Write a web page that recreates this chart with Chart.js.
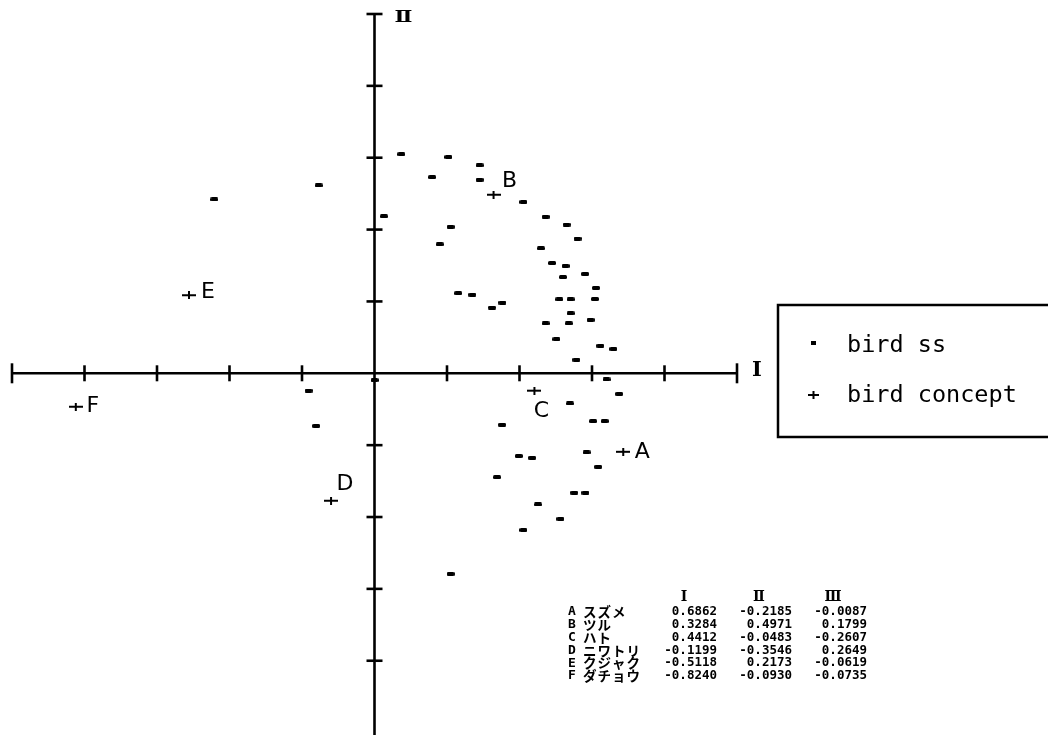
<!DOCTYPE html>
<html><head><meta charset="utf-8">
<script src="https://cdn.jsdelivr.net/npm/chart.js@4/dist/chart.umd.min.js"></script>
<style>
html,body{margin:0;padding:0;background:#fff;overflow:hidden}
#wrap{position:relative;width:1048px;height:735px}
canvas{display:block}
</style></head>
<body><div id="wrap"><canvas id="c" width="1048" height="735"></canvas></div>
<script>
// ---- data: "bird ss" points (dimension I, dimension II) ----
const ssI = [0.074,0.204,0.290,0.159,0.290,0.411,0.026,0.472,0.530,0.210,
             0.560,0.180,0.459,0.490,0.527,0.520,0.581,0.611,0.231,0.270,
             0.510,0.541,0.608,0.353,0.324,0.541,0.472,0.536,0.596,0.502,
             0.623,0.659,0.557,-0.442,-0.154,0.000,-0.182,-0.161,0.640,0.675,
             0.539,0.352,0.603,0.635,0.398,0.435,0.585,0.617,0.338,0.551,
             0.582,0.451,0.513,0.411,0.210];
const ssII = [0.610,0.602,0.579,0.546,0.539,0.477,0.437,0.436,0.414,0.408,
              0.375,0.359,0.348,0.307,0.299,0.268,0.277,0.238,0.223,0.219,
              0.206,0.206,0.207,0.197,0.183,0.167,0.139,0.139,0.149,0.095,
              0.077,0.068,0.038,0.484,0.523,-0.019,-0.048,-0.146,-0.017,-0.057,
              -0.084,-0.143,-0.133,-0.133,-0.230,-0.235,-0.220,-0.260,-0.289,-0.332,
              -0.332,-0.365,-0.405,-0.436,-0.558];

// ---- data: "bird concept" points ----
const conceptLabels = ['A','B','C','D','E','F'];
const conceptNames  = ['スズメ','ツル','ハト','ニワトリ','クジャク','ダチョウ'];
const dimI   = [0.6862, 0.3284, 0.4412, -0.1199, -0.5118, -0.8240];
const dimII  = [-0.2185, 0.4971, -0.0483, -0.3546, 0.2173, -0.0930];
const dimIII = [-0.0087, 0.1799, -0.2607, 0.2649, -0.0619, -0.0735];

// ---- tick / text labels ----
const axisTicks = [-0.8,-0.6,-0.4,-0.2,0.2,0.4,0.6,0.8];
const axisNames = ['Ⅰ','Ⅱ'];
const seriesNames = ['bird ss','bird concept'];
const tableHeaders = ['Ⅰ','Ⅱ','Ⅲ'];

// ---- styling (not data) ----
const labelOffsets = [[19,0],[16,-13],[7,21],[14,-16],[19,-3],[17,0]];

function mk(w,h,draw){const c=document.createElement('canvas');c.width=w;c.height=h;const g=c.getContext('2d');draw(g);return c;}
const dashImg = mk(8,4,g=>{g.fillStyle='#000';g.beginPath();g.roundRect(0,0,8,4,1.5);g.fill();});
const plusImg = mk(14,8,g=>{g.fillStyle='#000';g.fillRect(0,3,14,2);g.fillRect(6,0,2,8);});

function line(ctx,x1,y1,x2,y2){ctx.beginPath();ctx.moveTo(x1,y1);ctx.lineTo(x2,y2);ctx.stroke();}
function fmt(v){return (v<0?'-':'')+Math.abs(v).toFixed(4);}

const axesPlugin = {
  id:'axesPlugin',
  beforeDatasetsDraw(chart){
    const ctx=chart.ctx, x=chart.scales.x, y=chart.scales.y;
    const x0=x.getPixelForValue(0), y0=y.getPixelForValue(0);
    ctx.save();
    ctx.strokeStyle='#000'; ctx.lineWidth=2.6;
    const xl=x.getPixelForValue(-1), xr=x.getPixelForValue(1);
    line(ctx,xl,y0,xr,y0);
    line(ctx,xl,y0-10,xl,y0+10); line(ctx,xr,y0-10,xr,y0+10);
    axisTicks.forEach(v=>{const px=x.getPixelForValue(v); line(ctx,px,y0-8,px,y0+8);});
    const yt=y.getPixelForValue(1), yb=chart.height;
    line(ctx,x0,yt,x0,yb); line(ctx,x0-8,yt,x0+8,yt);
    axisTicks.forEach(v=>{const py=y.getPixelForValue(v); line(ctx,x0-8,py,x0+8,py);});
    ctx.fillStyle='#000';
    ctx.textAlign='center'; ctx.textBaseline='middle';
    ctx.font='bold 21px "DejaVu Serif"';
    ctx.fillText(axisNames[0], xr+20, y0-3);
    ctx.save();
    ctx.translate(x0+29, yt+4);
    ctx.scale(1.25,1);
    ctx.font='bold 17px "DejaVu Serif"';
    ctx.fillText(axisNames[1], 0, 0);
    ctx.restore();
    ctx.restore();
  },
  afterDatasetsDraw(chart){
    const ctx=chart.ctx, x=chart.scales.x, y=chart.scales.y;
    ctx.save();
    ctx.fillStyle='#000';
    // point labels
    ctx.font='22px "DejaVu Sans"';
    ctx.textAlign='center'; ctx.textBaseline='middle';
    conceptLabels.forEach((l,i)=>{
      const px=x.getPixelForValue(dimI[i]), py=y.getPixelForValue(dimII[i]);
      ctx.fillText(l, px+labelOffsets[i][0], py+labelOffsets[i][1]);
    });
    // legend box
    ctx.strokeStyle='#000'; ctx.lineWidth=2.5;
    ctx.strokeRect(778,305,280,132);
    ctx.fillRect(811,341,5,4);
    ctx.fillRect(808,394,11,2); ctx.fillRect(812.5,391,2,8);
    ctx.font='23.5px "DejaVu Sans Mono"';
    ctx.textAlign='left'; ctx.textBaseline='alphabetic';
    ctx.fillText(seriesNames[0], 847, 352);
    ctx.fillText(seriesNames[1], 847, 402);
    // table
    ctx.textBaseline='middle';
    ctx.font='bold 14px "DejaVu Serif"';
    ctx.textAlign='center';
    [684,759,833].forEach((cx,j)=>ctx.fillText(tableHeaders[j], cx, 597));
    conceptLabels.forEach((l,i)=>{
      const ry=612+i*12.8;
      ctx.font='bold 13px "DejaVu Sans Mono"';
      ctx.textAlign='left';
      ctx.fillText(l, 568, ry);
      ctx.font='bold 13.5px "Noto Sans CJK JP"';
      ctx.letterSpacing='1px';
      ctx.fillText(conceptNames[i], 583, ry);
      ctx.letterSpacing='0px';
      ctx.font='bold 12.5px "DejaVu Sans Mono"';
      ctx.textAlign='right';
      ctx.fillText(fmt(dimI[i]), 717, ry);
      ctx.fillText(fmt(dimII[i]), 792, ry);
      ctx.fillText(fmt(dimIII[i]), 867, ry);
    });
    ctx.restore();
  }
};

new Chart(document.getElementById('c').getContext('2d'), {
  type:'scatter',
  data:{datasets:[
    {label:seriesNames[0], data:ssI.map((v,i)=>({x:v,y:ssII[i]})), pointStyle:dashImg, pointRadius:4, borderColor:'#000', backgroundColor:'#000'},
    {label:seriesNames[1], data:dimI.map((v,i)=>({x:v,y:dimII[i]})), pointStyle:plusImg, pointRadius:5, borderColor:'#000', backgroundColor:'#000'}
  ]},
  options:{
    responsive:false, animation:false, devicePixelRatio:1, events:[],
    layout:{padding:{left:12,right:311,top:14,bottom:0}},
    scales:{
      x:{type:'linear',min:-1,max:1,display:false},
      y:{type:'linear',min:-0.99,max:1,display:false}
    },
    plugins:{legend:{display:false},tooltip:{enabled:false}}
  },
  plugins:[axesPlugin]
});
</script>
</body></html>
